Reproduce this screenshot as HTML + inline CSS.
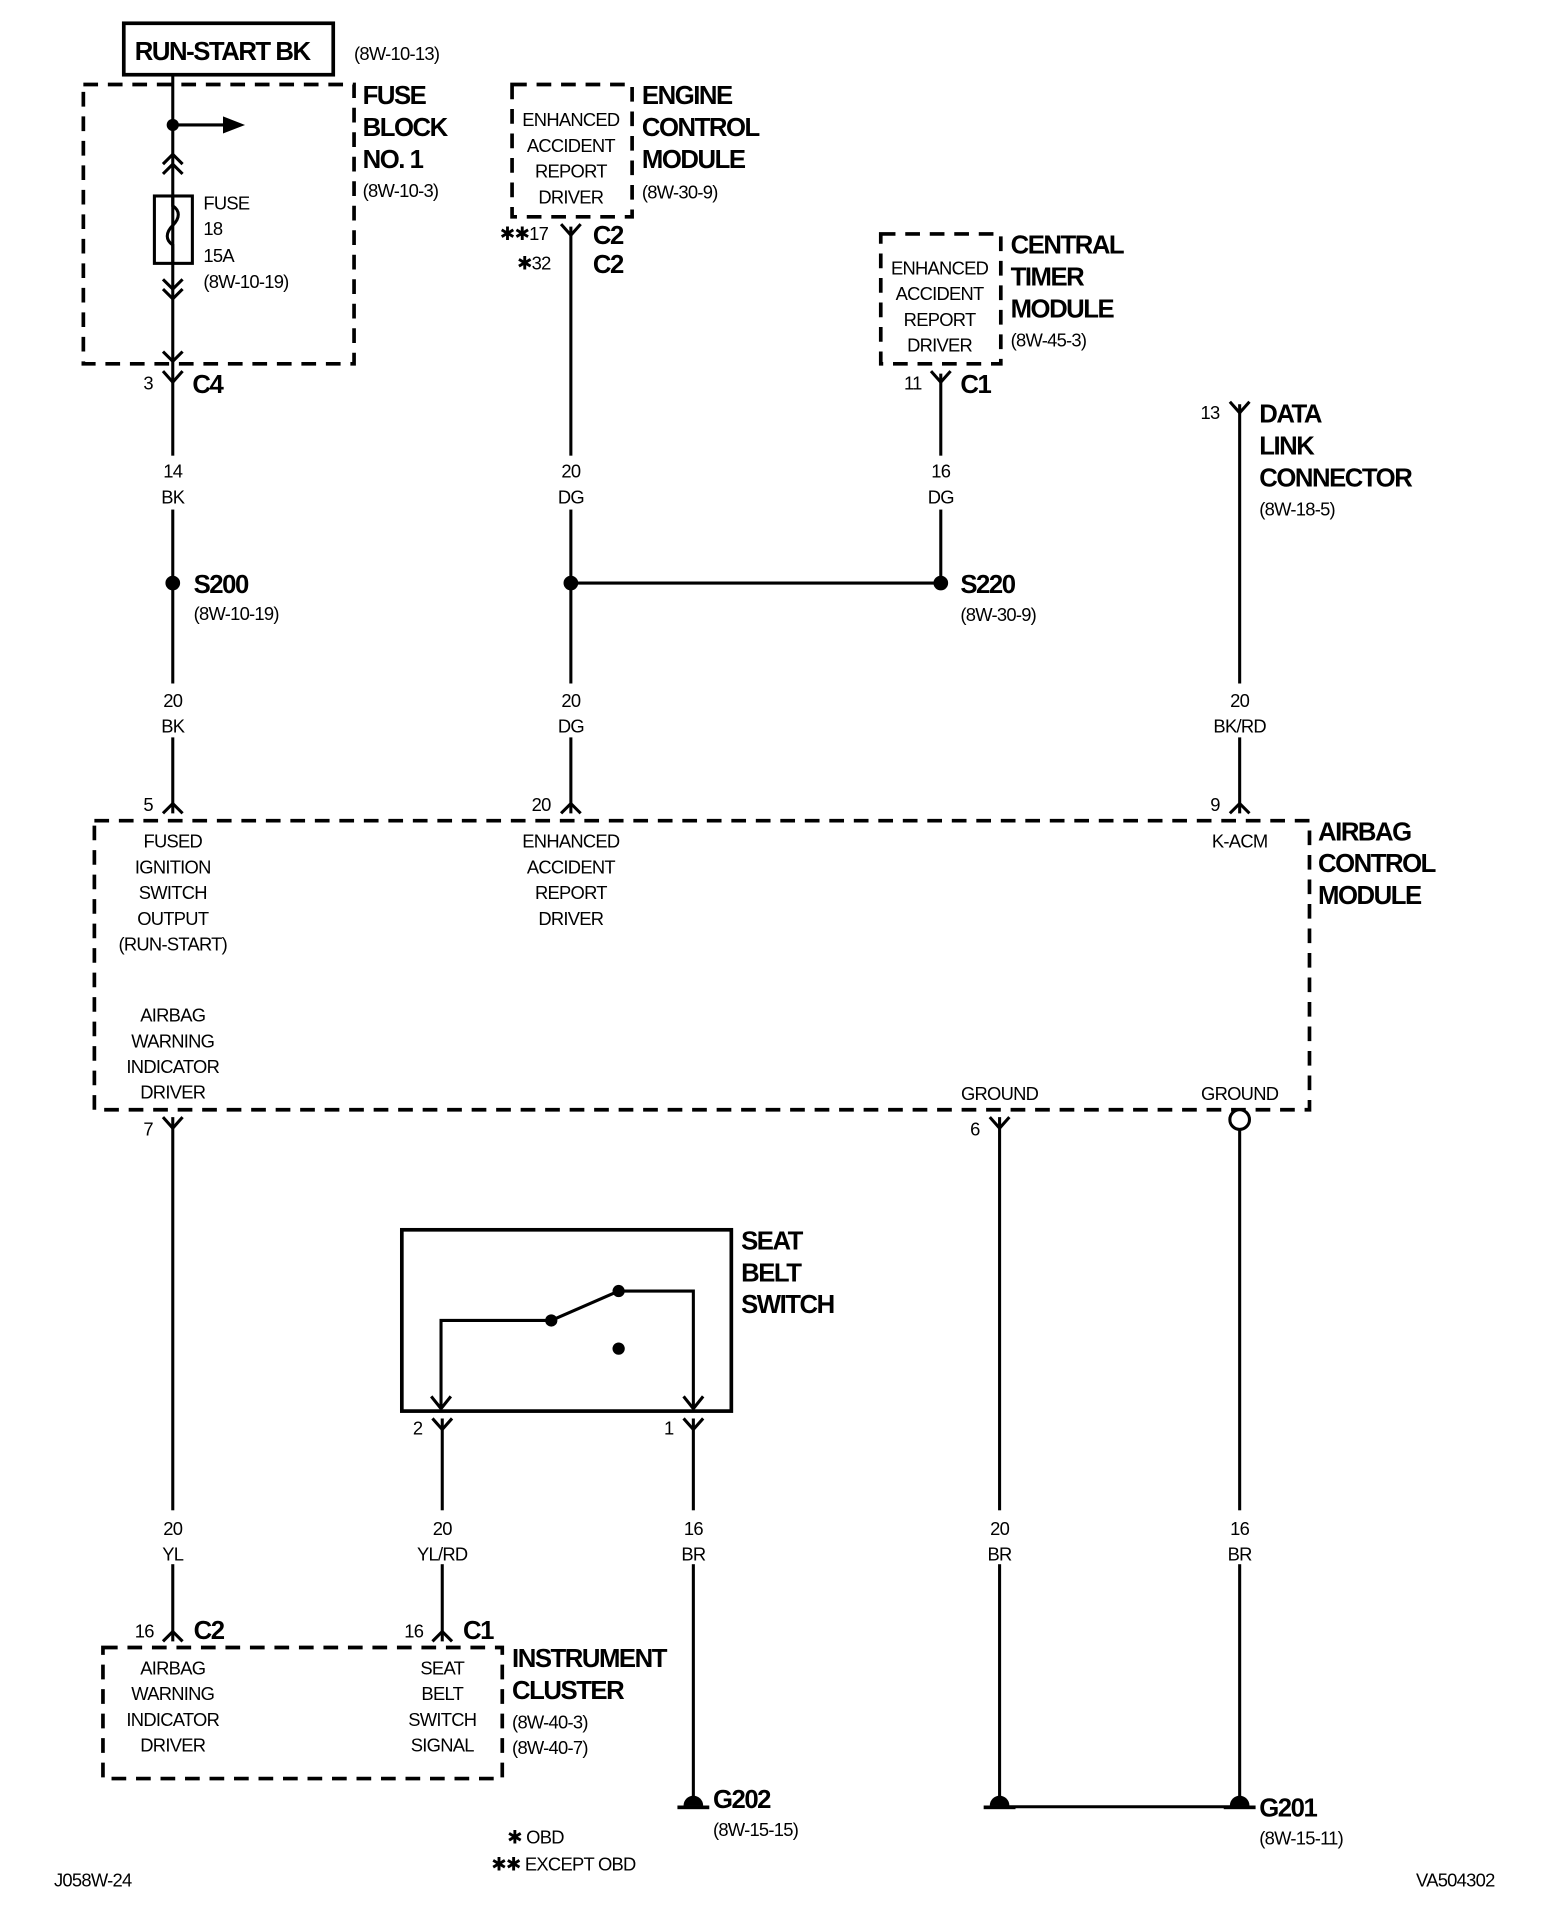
<!DOCTYPE html>
<html><head><meta charset="utf-8"><style>
html,body{margin:0;padding:0;background:#fff}
svg{display:block}
text{font-family:"Liberation Sans",sans-serif;fill:#000}
.b{font-weight:bold;font-size:21px;letter-spacing:-1.2px}
.s{font-size:15px;letter-spacing:-0.6px}
.c{text-anchor:middle}
</style></head><body>
<svg width="1568" height="1928" viewBox="0 0 1280 1574" xmlns="http://www.w3.org/2000/svg">
<g stroke="#000" stroke-width="2.5" fill="none">
<rect x="101" y="19" width="171" height="42" stroke-width="3"/>
<rect x="68" y="69" width="221" height="228" stroke-width="3" stroke-dasharray="12,8"/>
<rect x="418" y="69" width="98" height="108" stroke-width="3" stroke-dasharray="12,8"/>
<rect x="719" y="191" width="98" height="106" stroke-width="3" stroke-dasharray="12,8"/>
<rect x="77" y="670" width="992" height="236" stroke-width="3" stroke-dasharray="12,8"/>
<rect x="84" y="1345" width="326" height="107" stroke-width="3" stroke-dasharray="12,8"/>
<rect x="328" y="1004" width="269" height="148" stroke-width="3"/>
<line x1="141" y1="61" x2="141" y2="664"/>
<line x1="141" y1="102" x2="185" y2="102"/>
<line x1="466" y1="185" x2="466" y2="664"/>
<line x1="466" y1="476" x2="768" y2="476"/>
<line x1="768" y1="305" x2="768" y2="476"/>
<line x1="1012" y1="330" x2="1012" y2="664"/>
<line x1="141" y1="912" x2="141" y2="1340"/>
<line x1="816" y1="912" x2="816" y2="1475"/>
<line x1="1012" y1="922" x2="1012" y2="1475"/>
<line x1="816" y1="1475" x2="1012" y2="1475"/>
<line x1="361" y1="1158" x2="361" y2="1340"/>
<line x1="566" y1="1158" x2="566" y2="1468"/>
<polyline points="360,1148 360,1078 450,1078"/>
<line x1="450" y1="1078" x2="505" y2="1054"/>
<polyline points="505,1054 566,1054 566,1148"/>
<polyline points="352,1140 360,1150 368,1140"/>
<polyline points="558,1140 566,1150 574,1140"/>
<polyline points="133,134 141,126 149,134"/>
<polyline points="133,142 141,134 149,142"/>
<polyline points="133,228 141,236 149,228"/>
<polyline points="133,236 141,244 149,236"/>
<polyline points="133,287 141,295 149,287"/>
<rect x="126" y="160" width="31" height="55"/>
<path d="M141,160 v8 c6,4 6,10 0,16 c-6,6 -6,12 0,16 v15"/>
<polyline points="133,303 141,312 149,303"/>
<polyline points="458,183 466,192 474,183"/>
<polyline points="760,303 768,312 776,303"/>
<polyline points="1004,328 1012,337 1020,328"/>
<polyline points="133,912 141,921 149,912"/>
<polyline points="808,912 816,921 824,912"/>
<polyline points="353,1158 361,1167 369,1158"/>
<polyline points="558,1158 566,1167 574,1158"/>
<polyline points="133,664 141,656 149,664"/>
<polyline points="458,664 466,656 474,664"/>
<polyline points="1004,664 1012,656 1020,664"/>
<polyline points="133,1340 141,1332 149,1340"/>
<polyline points="353,1340 361,1332 369,1340"/>
<circle cx="1012" cy="914" r="8" fill="#fff"/>
</g>
<g fill="#000">
<polygon points="182,95 200,102 182,109"/>
<circle cx="141" cy="102" r="5"/>
<circle cx="141" cy="476" r="6"/>
<circle cx="466" cy="476" r="6"/>
<circle cx="768" cy="476" r="6"/>
<circle cx="450" cy="1078" r="5"/>
<circle cx="505" cy="1054" r="5"/>
<circle cx="505" cy="1101" r="5"/>
<path d="M558,1474 a8,8 0 0 1 16,0 z"/><rect x="553" y="1474" width="26" height="3"/>
<path d="M808,1474 a8,8 0 0 1 16,0 z"/><rect x="803" y="1474" width="26" height="3"/>
<path d="M1004,1474 a8,8 0 0 1 16,0 z"/><rect x="999" y="1474" width="26" height="3"/>
</g>
<g fill="#fff">
<rect x="125" y="372" width="32" height="44"/><rect x="450" y="372" width="32" height="44"/><rect x="752" y="372" width="32" height="44"/>
<rect x="125" y="558" width="32" height="44"/><rect x="450" y="558" width="32" height="44"/><rect x="985" y="558" width="54" height="44"/>
<rect x="125" y="1233" width="32" height="44"/><rect x="335" y="1233" width="54" height="44"/><rect x="550" y="1233" width="32" height="44"/>
<rect x="800" y="1233" width="32" height="44"/><rect x="996" y="1233" width="32" height="44"/>
</g>
<text class="b" x="110" y="49">RUN-START BK</text>
<text class="s" x="289" y="49">(8W-10-13)</text>
<text class="b" x="296" y="85">FUSE</text><text class="b" x="296" y="111">BLOCK</text><text class="b" x="296" y="137">NO. 1</text>
<text class="s" x="296" y="161">(8W-10-3)</text>
<text class="s" x="166" y="171">FUSE</text><text class="s" x="166" y="192">18</text><text class="s" x="166" y="214">15A</text><text class="s" x="166" y="235">(8W-10-19)</text>
<text class="s" x="117" y="318">3</text><text class="b" x="157" y="321">C4</text>
<text class="s c" x="466" y="103">ENHANCED</text><text class="s c" x="466" y="124">ACCIDENT</text><text class="s c" x="466" y="145">REPORT</text><text class="s c" x="466" y="166">DRIVER</text>
<text class="s c" x="767" y="224">ENHANCED</text><text class="s c" x="767" y="245">ACCIDENT</text><text class="s c" x="767" y="266">REPORT</text><text class="s c" x="767" y="287">DRIVER</text>
<text class="b" x="524" y="85">ENGINE</text><text class="b" x="524" y="111">CONTROL</text><text class="b" x="524" y="137">MODULE</text><text class="s" x="524" y="162">(8W-30-9)</text>
<text class="s" x="408" y="196">✱✱17</text><text class="b" x="484" y="199">C2</text>
<text class="s" x="422" y="220">✱32</text><text class="b" x="484" y="223">C2</text>
<text class="b" x="825" y="207">CENTRAL</text><text class="b" x="825" y="233">TIMER</text><text class="b" x="825" y="259">MODULE</text><text class="s" x="825" y="283">(8W-45-3)</text>
<text class="s" x="738" y="318">11</text><text class="b" x="784" y="321">C1</text>
<text class="s" x="980" y="342">13</text>
<text class="b" x="1028" y="345">DATA</text><text class="b" x="1028" y="371">LINK</text><text class="b" x="1028" y="397">CONNECTOR</text><text class="s" x="1028" y="421">(8W-18-5)</text>
<text class="s c" x="141" y="390">14</text><text class="s c" x="141" y="411">BK</text>
<text class="s c" x="466" y="390">20</text><text class="s c" x="466" y="411">DG</text>
<text class="s c" x="768" y="390">16</text><text class="s c" x="768" y="411">DG</text>
<text class="b" x="158" y="484">S200</text><text class="s" x="158" y="506">(8W-10-19)</text>
<text class="b" x="784" y="484">S220</text><text class="s" x="784" y="507">(8W-30-9)</text>
<text class="s c" x="141" y="577">20</text><text class="s c" x="141" y="598">BK</text>
<text class="s c" x="466" y="577">20</text><text class="s c" x="466" y="598">DG</text>
<text class="s c" x="1012" y="577">20</text><text class="s c" x="1012" y="598">BK/RD</text>
<text class="s" x="117" y="662">5</text><text class="s" x="434" y="662">20</text><text class="s" x="988" y="662">9</text>
<text class="s c" x="141" y="692">FUSED</text><text class="s c" x="141" y="713">IGNITION</text><text class="s c" x="141" y="734">SWITCH</text><text class="s c" x="141" y="755">OUTPUT</text><text class="s c" x="141" y="776">(RUN-START)</text>
<text class="s c" x="466" y="692">ENHANCED</text><text class="s c" x="466" y="713">ACCIDENT</text><text class="s c" x="466" y="734">REPORT</text><text class="s c" x="466" y="755">DRIVER</text>
<text class="s c" x="1012" y="692">K-ACM</text>
<text class="b" x="1076" y="686">AIRBAG</text><text class="b" x="1076" y="712">CONTROL</text><text class="b" x="1076" y="738">MODULE</text>
<text class="s c" x="141" y="834">AIRBAG</text><text class="s c" x="141" y="855">WARNING</text><text class="s c" x="141" y="876">INDICATOR</text><text class="s c" x="141" y="897">DRIVER</text>
<text class="s c" x="816" y="898">GROUND</text><text class="s c" x="1012" y="898">GROUND</text>
<text class="s" x="117" y="927">7</text><text class="s" x="792" y="927">6</text>
<text class="b" x="605" y="1020">SEAT</text><text class="b" x="605" y="1046">BELT</text><text class="b" x="605" y="1072">SWITCH</text>
<text class="s" x="337" y="1171">2</text><text class="s" x="542" y="1171">1</text>
<text class="s c" x="141" y="1253">20</text><text class="s c" x="141" y="1274">YL</text>
<text class="s c" x="361" y="1253">20</text><text class="s c" x="361" y="1274">YL/RD</text>
<text class="s c" x="566" y="1253">16</text><text class="s c" x="566" y="1274">BR</text>
<text class="s c" x="816" y="1253">20</text><text class="s c" x="816" y="1274">BR</text>
<text class="s c" x="1012" y="1253">16</text><text class="s c" x="1012" y="1274">BR</text>
<text class="s" x="110" y="1337">16</text><text class="b" x="158" y="1338">C2</text>
<text class="s" x="330" y="1337">16</text><text class="b" x="378" y="1338">C1</text>
<text class="s c" x="141" y="1367">AIRBAG</text><text class="s c" x="141" y="1388">WARNING</text><text class="s c" x="141" y="1409">INDICATOR</text><text class="s c" x="141" y="1430">DRIVER</text>
<text class="s c" x="361" y="1367">SEAT</text><text class="s c" x="361" y="1388">BELT</text><text class="s c" x="361" y="1409">SWITCH</text><text class="s c" x="361" y="1430">SIGNAL</text>
<text class="b" x="418" y="1361">INSTRUMENT</text><text class="b" x="418" y="1387">CLUSTER</text><text class="s" x="418" y="1411">(8W-40-3)</text><text class="s" x="418" y="1432">(8W-40-7)</text>
<text class="b" x="582" y="1476">G202</text><text class="s" x="582" y="1499">(8W-15-15)</text>
<text class="b" x="1028" y="1483">G201</text><text class="s" x="1028" y="1506">(8W-15-11)</text>
<text class="s" x="414" y="1505">✱ OBD</text><text class="s" x="401" y="1527">✱✱ EXCEPT OBD</text>
<text class="s" x="44" y="1540">J058W-24</text><text class="s" x="1156" y="1540">VA504302</text>
</svg>
</body></html>
